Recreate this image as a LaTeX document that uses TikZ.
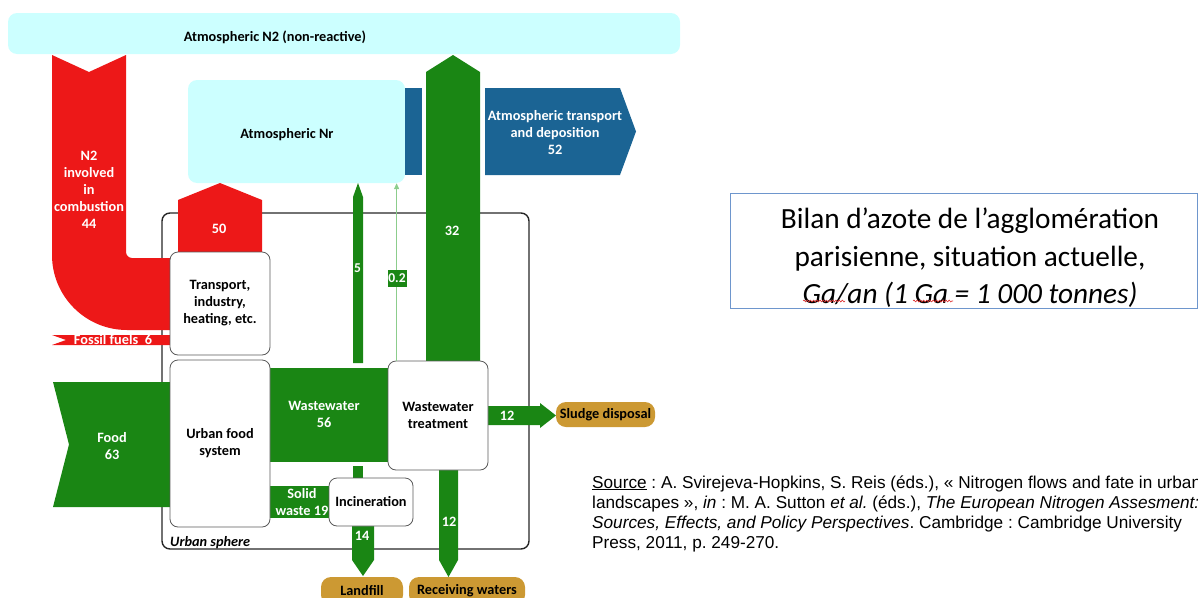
\documentclass[tikz,border=0pt]{standalone}
\usepackage{fontspec}
\setmainfont{Carlito}
\newfontfamily\arialf{Liberation Sans}
\usetikzlibrary{arrows.meta,decorations.pathmorphing}
\definecolor{cyanbg}{RGB}{204,255,255}
\definecolor{nred}{RGB}{237,24,24}
\definecolor{ngreen}{RGB}{26,134,20}
\definecolor{nblue}{RGB}{27,100,148}
\definecolor{norange}{RGB}{204,153,51}
\definecolor{lgreen}{RGB}{140,205,140}
\definecolor{titleborder}{RGB}{110,150,205}
\definecolor{boxborder}{RGB}{90,90,90}
\definecolor{spellred}{RGB}{220,40,40}
\frenchspacing
\begin{document}
\begin{tikzpicture}[x=1pt,y=-1pt,
  lab/.style={font=\fontsize{14.3}{17}\selectfont\bfseries, text=white, align=center, inner sep=0pt},
  dlab/.style={font=\fontsize{14.3}{17}\selectfont\bfseries, text=black, align=center, inner sep=0pt},
  procbox/.style={draw=boxborder, fill=white, rounded corners=8pt, line width=0.8pt, inner sep=1pt,
    font=\fontsize{14.3}{17}\selectfont\bfseries, align=center},
  sink/.style={fill=norange, rounded corners=10pt, inner sep=1pt, font=\fontsize{14.3}{17}\selectfont\bfseries},
  cyanbox/.style={fill=cyanbg, rounded corners=9pt, inner sep=0pt},
  srcline/.style={anchor=base west, inner sep=0pt, font=\arialf\fontsize{17.2}{20}\selectfont},
  spell/.style={draw=spellred, line width=0.6pt, decorate, decoration={snake, segment length=3.2pt, amplitude=0.9pt}}
]
\useasboundingbox (0,0) rectangle (1198,597);

% urban sphere frame
\node[draw=black!85, line width=1.4pt, rounded corners=8pt, minimum width=367pt, minimum height=336pt, inner sep=0pt] (us) at (345.5,381) {};

% atmospheric reservoirs
\node[cyanbox, minimum width=672pt, minimum height=41pt] (n2) at (344,33.5) {};
\node[cyanbox, minimum width=217pt, minimum height=103pt] (nr) at (296.5,131.5) {};

% red flows
\fill[nred] (52,55) -- (89,72) -- (126,55) -- (126,252) .. controls (126,255.3) and (128.7,258) .. (132,258)
  -- (175,258) -- (175,330) -- (127,330) .. controls (85.6,330) and (52,296.4) .. (52,255) -- cycle;
\fill[nred] (178,256) -- (178,200) -- (220,183) -- (262,200) -- (262,256) -- cycle;
\fill[nred] (52,335) -- (175,335) -- (175,345) -- (52,345) -- (66,340) -- cycle;

% green flows
\fill[ngreen] (53,382) -- (175,382) -- (175,507) -- (53,507) -- (69,444.5) -- cycle;
\fill[ngreen] (265,368) rectangle (392,462);
\fill[ngreen] (265,486) rectangle (333,518);
\fill[ngreen] (353,466) rectangle (363,481);
\fill[ngreen] (353,363) -- (353,197) -- (358,183) -- (363,197) -- (363,363) -- cycle;
\fill[ngreen] (426,364) -- (426,72) -- (453,55) -- (480,72) -- (480,364) -- cycle;
\fill[ngreen] (352,523) -- (374,523) -- (374,560) -- (363,576) -- (352,560) -- cycle;
\fill[ngreen] (439,467) -- (458,467) -- (458,560) -- (448.5,577) -- (439,560) -- cycle;
\fill[ngreen] (485,406) -- (540,406) -- (540,403) -- (556,415.5) -- (540,428) -- (540,425) -- (485,425) -- cycle;

% blue flow
\fill[nblue] (405,88) rectangle (422,175);
\fill[nblue] (485,88) -- (620,88) -- (636,131.5) -- (620,175) -- (485,175) -- cycle;

% process boxes
\node[procbox, minimum width=100pt, minimum height=103pt] (tr) at (220,303.5) {Transport,\\industry,\\heating, etc.};
\node[procbox, minimum width=100pt, minimum height=167pt] (ufs) at (220,443.5) {Urban food\\system};
\node[procbox, minimum width=100pt, minimum height=109pt] (wwt) at (438,415.5) {Wastewater\\treatment};
\node[procbox, minimum width=84pt, minimum height=48pt] (inc) at (371,502) {Incineration};

% 0.2 flow
\draw[lgreen, line width=1.3pt, -{Triangle[length=6pt,width=5pt]}] ([xshift=9pt]wwt.north west) -- ([xshift=9pt]wwt.north west |- nr.south);
\node[fill=ngreen, text=white, minimum width=19pt, minimum height=17pt, inner sep=0pt, font=\fontsize{13.5}{14}\selectfont\bfseries] (l02) at (397,278.5) {0.2};

% sinks
\node[sink, minimum width=99pt, minimum height=25pt] (sl) at (605.5,414.5) {Sludge disposal};
\node[sink, minimum width=82pt, minimum height=28pt] (lf) at (362,591) {Landfill};
\node[sink, minimum width=116pt, minimum height=28pt] (rw) at (467,591) {Receiving waters};

% labels
\node[dlab] (n2lab) at (275,37) {Atmospheric N2 (non-reactive)};
\node[dlab] (nrlab) at (287,135) {Atmospheric Nr};
\node[lab] (atlab) at (555,133) {Atmospheric transport\\and deposition\\52};
\node[lab] (comb) at (89,190) {N2\\involved\\in\\combustion\\44};
\node[lab] (l50) at (219,229) {50};
\node[lab] (ffl) at (113,340) {Fossil fuels\ \ 6};
\node[lab] (food) at (112,446.5) {Food\\63};
\node[lab] (ww) at (324,414.5) {Wastewater\\56};
\node[lab] (sw) at (302,502.5) {Solid\\waste 19};
\node[lab, font=\fontsize{13.5}{14}\selectfont\bfseries] (l5) at (357.5,268) {5};
\node[lab] (l32) at (452,231) {32};
\node[lab] (l14) at (362,536) {14};
\node[lab] (l12a) at (449,522) {12};
\node[lab] (l12b) at (507,416) {12};
\node[anchor=base west, inner sep=0pt, font=\fontsize{14.3}{17}\selectfont\bfseries\itshape] (uslab) at (170,546) {Urban sphere};

% title box
\node[draw=titleborder, line width=0.9pt, minimum width=467pt, minimum height=115pt, inner sep=0pt] (tbox) at (963.5,250.5) {};
\node[align=center, inner sep=0pt, font=\fontsize{29.3}{37.5}\selectfont] (title) at (970,258)
  {Bilan d’azote de l’agglomération\\parisienne, situation actuelle,\\\textit{Ga/an (1 Ga = 1 000 tonnes)}};
\draw[spell] (803,301) -- (845,301);
\draw[spell] (913,301) -- (953,301);

% source
\node[srcline] (s1) at (592,488) {\underline{Source} : A. Svirejeva-Hopkins, S. Reis (éds.), « Nitrogen flows and fate in urban};
\node[srcline] (s2) at (592,508) {landscapes », \textit{in} : M. A. Sutton \textit{et al.} (éds.), \textit{The European Nitrogen Assesment:}};
\node[srcline] (s3) at (592,528) {\textit{Sources, Effects, and Policy Perspectives}. Cambridge : Cambridge University};
\node[srcline] (s4) at (592,548) {Press, 2011, p. 249-270.};
\end{tikzpicture}
\end{document}
